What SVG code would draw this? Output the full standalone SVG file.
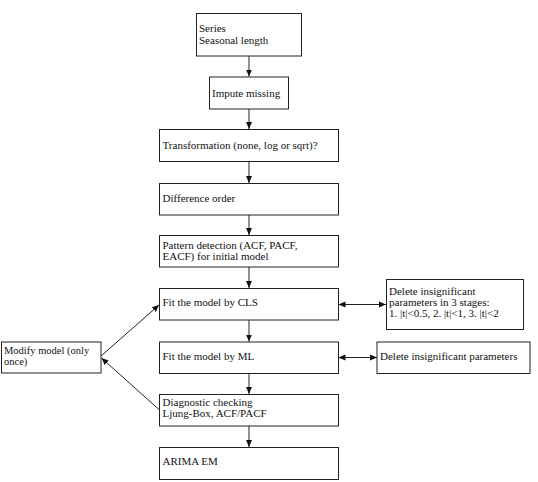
<svg xmlns="http://www.w3.org/2000/svg" width="538" height="482" viewBox="0 0 538 482">
<defs>
<style>
.box{fill:#fff;stroke:#222;stroke-width:1}
.c{fill:none;stroke:#222;stroke-width:1}
</style>
<marker id="ah" markerWidth="8" markerHeight="8" refX="7" refY="4" orient="auto" markerUnits="userSpaceOnUse">
<path d="M0,1 L7,4 L0,7 Z" fill="#111"/>
</marker>
<marker id="as" markerWidth="8" markerHeight="8" refX="0" refY="4" orient="auto" markerUnits="userSpaceOnUse">
<path d="M7,1 L0,4 L7,7 Z" fill="#111"/>
</marker>
</defs>
<rect width="538" height="482" fill="#fff"/>
<g id="connectors">
<line class="c" x1="249" y1="56" x2="249" y2="76.5" marker-end="url(#ah)"/>
<line class="c" x1="249" y1="109" x2="249" y2="129" marker-end="url(#ah)"/>
<line class="c" x1="249" y1="162" x2="249" y2="183" marker-end="url(#ah)"/>
<line class="c" x1="249" y1="215" x2="249" y2="235" marker-end="url(#ah)"/>
<line class="c" x1="249" y1="267" x2="249" y2="288" marker-end="url(#ah)"/>
<line class="c" x1="249" y1="320" x2="249" y2="341.5" marker-end="url(#ah)"/>
<line class="c" x1="249" y1="373.5" x2="249" y2="394" marker-end="url(#ah)"/>
<line class="c" x1="249" y1="426" x2="249" y2="447" marker-end="url(#ah)"/>
<line class="c" x1="338.5" y1="304.5" x2="386" y2="304.5" marker-start="url(#as)" marker-end="url(#ah)"/>
<line class="c" x1="338.5" y1="357.5" x2="377" y2="357.5" marker-start="url(#as)" marker-end="url(#ah)"/>
<line class="c" x1="101" y1="356" x2="159" y2="305" marker-end="url(#ah)"/>
<line class="c" x1="159.5" y1="410" x2="101.5" y2="358" marker-end="url(#ah)"/>
</g>
<g font-family="'Liberation Serif', 'Times New Roman', 'DejaVu Serif', serif" font-size="11" fill="#111">
<g id="n-series"><rect class="box" x="196.5" y="13.5" width="105" height="42.5"/><text x="199" y="32">Series</text><text x="199" y="43.5">Seasonal length</text></g>
<g id="n-impute"><rect class="box" x="209.5" y="77" width="79" height="32"/><text x="212" y="97">Impute missing</text></g>
<g id="n-transform"><rect class="box" x="159.5" y="129.5" width="179" height="32"/><text x="162.5" y="148.5">Transformation (none, log or sqrt)?</text></g>
<g id="n-diff"><rect class="box" x="159.5" y="183.5" width="179" height="31.5"/><text x="162.5" y="202">Difference order</text></g>
<g id="n-pattern"><rect class="box" x="159.5" y="235.5" width="179" height="31.5"/><text x="162.5" y="248.5">Pattern detection (ACF, PACF,</text><text x="162.5" y="259.5">EACF) for initial model</text></g>
<g id="n-cls"><rect class="box" x="159.5" y="288.5" width="179" height="31.5"/><text x="162.5" y="306">Fit the model by CLS</text></g>
<g id="n-delete3"><rect class="box" x="386.5" y="279.5" width="137" height="50"/><text x="389" y="295">Delete insignificant</text><text x="389" y="306">parameters in 3 stages:</text><text x="389" y="317">1. |t|&lt;0.5, 2. |t|&lt;1, 3. |t|&lt;2</text></g>
<g id="n-ml"><rect class="box" x="159.5" y="342" width="179" height="31.5"/><text x="162.5" y="359.5">Fit the model by ML</text></g>
<g id="n-delete"><rect class="box" x="377" y="342" width="153" height="31.5"/><text x="380" y="359.5">Delete insignificant parameters</text></g>
<g id="n-modify"><rect class="box" x="1.5" y="342" width="99.5" height="31"/><text x="4" y="354" font-size="10.5">Modify model (only</text><text x="4" y="365" font-size="10.5">once)</text></g>
<g id="n-diag"><rect class="box" x="159.5" y="394.5" width="179" height="31.5"/><text x="162.5" y="405.5">Diagnostic checking</text><text x="162.5" y="416.5">Ljung-Box, ACF/PACF</text></g>
<g id="n-arima"><rect class="box" x="159.5" y="447.5" width="179" height="32"/><text x="162.5" y="465">ARIMA EM</text></g>
</g>
</svg>
